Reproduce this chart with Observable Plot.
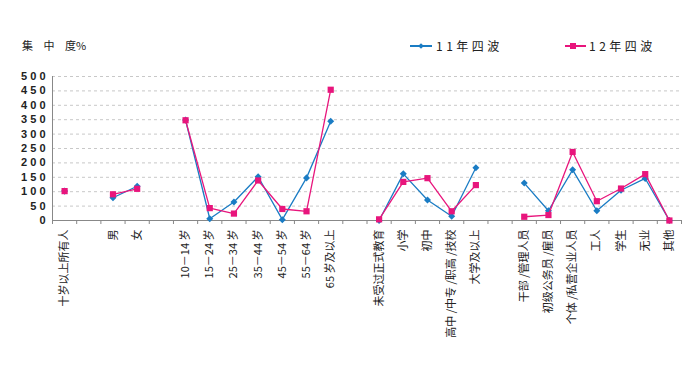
<!DOCTYPE html>
<html><head><meta charset="utf-8">
<script src="https://cdn.jsdelivr.net/npm/d3@7"></script>
<script src="https://cdn.jsdelivr.net/npm/@observablehq/plot@0.6"></script>
<style>
body{margin:0;background:#fff;font-family:"Noto Sans CJK SC",sans-serif;}
#wrap{position:relative;width:700px;height:379px;overflow:hidden;}
#head{position:relative;height:60px;}
.t{position:absolute;font-size:12px;color:#222;white-space:nowrap;line-height:14px;}
.sw{position:absolute;height:2px;}
.mk{position:absolute;}
</style>
</head><body>
<div id="wrap">
  <div id="head">
    <div class="t" style="left:22px;top:38px;font-size:11px;"><span style="letter-spacing:4px;">集 中 </span>度%</div>
    <div class="sw" style="left:410px;top:45px;width:22px;background:#1a7cc4;"></div>
    <div class="mk" style="left:418.5px;top:43.5px;width:4px;height:4px;background:#1a7cc4;transform:rotate(45deg);"></div>
    <div class="t" id="l1" style="left:436px;top:39px;letter-spacing:3.5px;"></div>
    <div class="sw" style="left:565px;top:45px;width:21px;background:#e8157c;"></div>
    <div class="mk" style="left:570px;top:42.5px;width:6px;height:6px;background:#e8157c;"></div>
    <div class="t" id="l2" style="left:589px;top:39px;letter-spacing:3.5px;"></div>
  </div>
  <div id="chart"></div>
</div>
<script>
const categories = ["十岁以上所有人","","男","女","","10－14 岁","15－24 岁","25－34 岁","35－44 岁","45－54 岁","55－64 岁","65 岁及以上","","未受过正式教育","小学","初中","高中 /中专 /职高 /技校","大学及以上","","干部 /管理人员","初级公务员 /雇员","个体 /私营企业人员","工人","学生","无业","其他"];
const series11 = [102,null,79,119,null,349,6,64,152,3,148,345,null,0,162,71,15,183,null,130,34,176,34,105,146,0];
const series12 = [102,null,91,110,null,348,43,24,139,40,32,454,null,4,134,147,32,123,null,13,19,238,67,111,161,0];
const seriesNames = ["11年四波","12年四波"];
const yTicks = [0,50,100,150,200,250,300,350,400,450,500];

document.getElementById("l1").textContent = seriesNames[0];
document.getElementById("l2").textContent = seriesNames[1];

const blue = "#1a7cc4", pink = "#e8157c";
const n = categories.length;
const rows = categories.map((c,i)=>({i, x:i+0.5, a:series11[i], b:series12[i]}));
const centers = d3.range(n).map(i=>i+0.5);
const bounds = d3.range(n+1);

const chart = Plot.plot({
  width:700, height:319,
  marginTop:16, marginBottom:159, marginLeft:52, marginRight:19,
  style:{fontFamily:"'Noto Sans CJK SC', sans-serif", color:"#222", background:"#fff"},
  x:{type:"linear", domain:[0,n], axis:null},
  y:{domain:[0,500], axis:null},
  marks:[
    Plot.gridY(yTicks.filter(d=>d>0), {stroke:"#c8c8c8", strokeOpacity:1, strokeDasharray:"3,3"}),
    Plot.ruleX([0], {y1:0, y2:500, stroke:"#888"}),
    Plot.ruleY([0], {stroke:"#888"}),
    Plot.axisX(bounds, {tickSize:4, tickFormat:()=>"", stroke:"#888", label:null}),
    Plot.axisX(centers, {tickSize:0, tickPadding:9, tickRotate:-90, fontSize:11, label:null,
      tickFormat:d=>categories[Math.round(d-0.5)]}),
    Plot.axisY(yTicks, {tickSize:0, tickPadding:7, fontSize:11, fontWeight:"bold", label:null,
      fontFamily:"'Liberation Sans', sans-serif",
      tickFormat:d=>String(d).split("").join(" ")}),
    Plot.line(rows, {x:"x", y:"a", stroke:blue, strokeWidth:1.3}),
    Plot.dot(rows.filter(d=>d.a!=null), {x:"x", y:"a", symbol:"square", rotate:45, r:2.8, fill:blue}),
    Plot.line(rows, {x:"x", y:"b", stroke:pink, strokeWidth:1.3}),
    Plot.dot(rows.filter(d=>d.b!=null), {x:"x", y:"b", symbol:"square", r:3.5, fill:pink})
  ]
});
document.getElementById("chart").appendChild(chart);
</script>
</body></html>
